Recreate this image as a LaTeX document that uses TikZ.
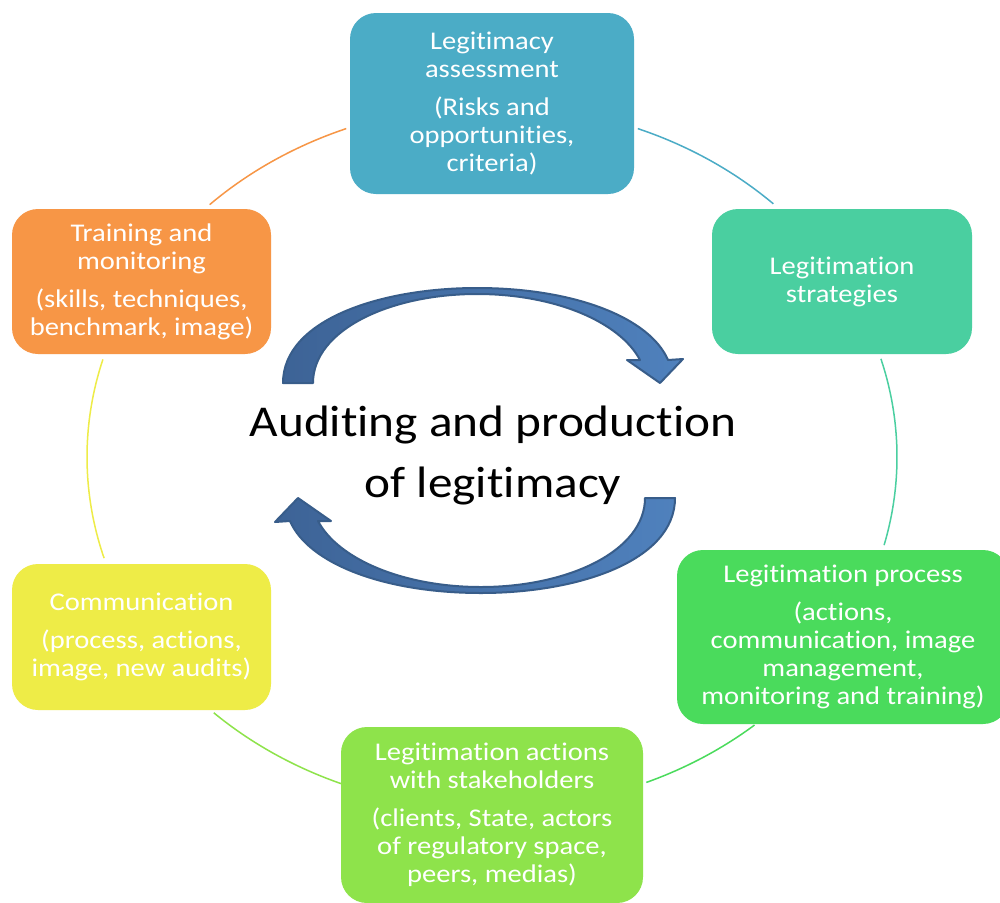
\documentclass[tikz,border=0pt]{standalone}
\usepackage{fontspec}
\setmainfont{Carlito}[Ligatures=NoCommon]
\newfontfamily\widefont{Carlito}[FakeStretch=1.12, Ligatures=NoCommon]
\definecolor{cTop}{HTML}{4BACC6}
\definecolor{cTeal}{HTML}{4ACFA0}
\definecolor{cGreen}{HTML}{4ADB5C}
\definecolor{cLight}{HTML}{8EE34B}
\definecolor{cYellow}{HTML}{EEEC47}
\definecolor{cOrange}{HTML}{F79646}
\definecolor{arDark}{HTML}{3D6396}
\definecolor{arLight}{HTML}{4F81BD}
\definecolor{arLine}{HTML}{385D8A}
\tikzset{
  boxnode/.style={rectangle, rounded corners=26pt, inner sep=0pt, outer sep=0pt,
    text=white, align=center, font=\widefont\fontsize{25.5}{28}\selectfont},
  ringarc/.style={line width=1.5pt},
  bigarrow/.style={draw=arLine, line width=2pt, line join=round, left color=arDark, right color=arLight},
  centertext/.style={align=center, font=\widefont\fontsize{44}{61}\selectfont, text=black}
}
\begin{document}
\begin{tikzpicture}[x=1pt,y=-1pt]
\useasboundingbox (0,0) rectangle (1000,902);
\clip (0,0) rectangle (1000,902);
\fill[white] (0,0) rectangle (1000,902);
% ring arcs
\draw[ringarc, cOrange] plot[domain=134.2:111.1, samples=40] ({492+405*cos(\x)},{457-352*sin(\x)});
\draw[ringarc, cTop] plot[domain=68.9:46, samples=40] ({492+405*cos(\x)},{457-352*sin(\x)});
\draw[ringarc, cTeal] plot[domain=16.2:-14.5, samples=40] ({492+405*cos(\x)},{457-352*sin(\x)});
\draw[ringarc, cGreen] plot[domain=-49.6:-67.6, samples=40] ({492+405*cos(\x)},{457-352*sin(\x)});
\draw[ringarc, cLight] plot[domain=-111.8:-133.4, samples=40] ({492+405*cos(\x)},{457-352*sin(\x)});
\draw[ringarc, cYellow] plot[domain=196.7:163.9, samples=40] ({492+405*cos(\x)},{457-352*sin(\x)});
% boxes
\node[boxnode, fill=cTop, minimum width=284pt, minimum height=181pt] (assess) at (492,103.5)
  {Legitimacy\\assessment\\[10pt](Risks and\\opportunities,\\criteria)};
\node[boxnode, fill=cTeal, minimum width=260pt, minimum height=145pt] (strat) at (842,281.5)
  {Legitimation\\strategies};
\node[boxnode, fill=cGreen, minimum width=332pt, minimum height=174pt] (process) at (843,637)
  {Legitimation process\\[10pt](actions,\\communication, image\\management,\\monitoring and training)};
\node[boxnode, fill=cLight, minimum width=302pt, minimum height=176pt] (actions) at (492,815)
  {Legitimation actions\\with stakeholders\\[10pt](clients, State, actors\\of regulatory space,\\peers, medias)};
\node[boxnode, fill=cYellow, minimum width=259pt, minimum height=146pt] (comm) at (141.5,637)
  {Communication\\[10pt](process, actions,\\image, new audits)};
\node[boxnode, fill=cOrange, minimum width=259pt, minimum height=145pt] (train) at (141.5,281.5)
  {Training and\\monitoring\\[10pt](skills, techniques,\\benchmark, image)};
% center arrows
\path[bigarrow] (283,383) .. controls (283,320) and (380,288) .. (477,288)
  .. controls (575,288) and (650,318) .. (668,360) -- (683,359) -- (660,383) -- (627,360) -- (640,360)
  .. controls (620,322) and (555,294) .. (477,294)
  .. controls (390,294) and (313,330) .. (313,383) -- cycle;
\begin{scope}[rotate around={180:(479,440.5)}]
\path[bigarrow] (283,383) .. controls (283,320) and (380,288) .. (477,288)
  .. controls (575,288) and (650,318) .. (668,360) -- (683,359) -- (660,383) -- (627,360) -- (640,360)
  .. controls (620,322) and (555,294) .. (477,294)
  .. controls (390,294) and (313,330) .. (313,383) -- cycle;
\end{scope}
\node[centertext] (center) at (493,455) {Auditing and production\\of legitimacy};
\end{tikzpicture}
\end{document}
